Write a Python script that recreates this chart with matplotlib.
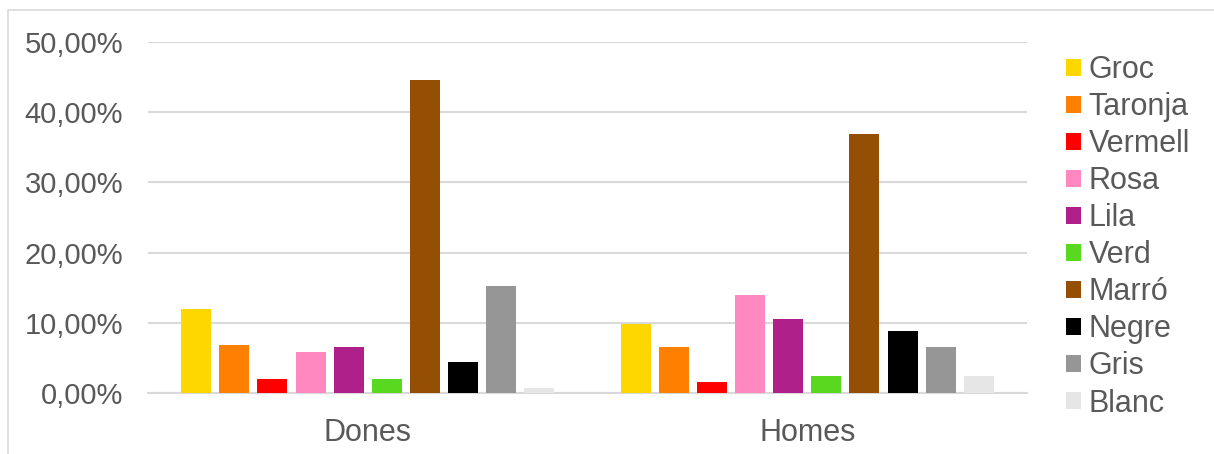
import numpy as np
import matplotlib.pyplot as plt
from matplotlib.patches import Rectangle
from matplotlib.ticker import FuncFormatter

# percentatge per color i grup
groups = ['Dones', 'Homes']
colors_names = ['Groc', 'Taronja', 'Vermell', 'Rosa', 'Lila', 'Verd',
                'Marró', 'Negre', 'Gris', 'Blanc']
dones = [11.9, 6.8, 2.0, 5.8, 6.5, 2.0, 44.6, 4.4, 15.3, 0.7]
homes = [9.9, 6.5, 1.6, 13.9, 10.6, 2.4, 36.9, 8.9, 6.5, 2.4]
bar_colors = ['#FFD700', '#FF8000', '#FF0000', '#FF88C0', '#B0208A',
              '#58D81E', '#954F04', '#000000', '#969696', '#E6E6E6']

plt.rcParams['font.family'] = ['Liberation Sans', 'DejaVu Sans']
text_color = '#595959'

fig = plt.figure(figsize=(12.14, 4.54), dpi=100)
# light frame round the chart
fig.patches.append(Rectangle((8 / 1214, -0.1), 1.2, (454 - 10) / 454 + 0.1,
                             transform=fig.transFigure, fill=False,
                             edgecolor='#D9D9D9', linewidth=1.2))

ax = fig.add_axes([148 / 1214, (454 - 393) / 454, (1027 - 148) / 1214, (393 - 42) / 454])

x = np.arange(len(groups))
slot = 38 / 438
width = 30 / 438
for i, name in enumerate(colors_names):
    vals = np.array([dones[i], homes[i]]) / 100
    ax.bar(x + (i - 4.5) * slot, vals, width=width, color=bar_colors[i],
           label=name, zorder=3)

ax.set_xlim(-0.5, 1.5)
ax.set_ylim(0, 0.5)
ax.set_yticks(np.arange(0, 0.51, 0.1))
ax.yaxis.set_major_formatter(FuncFormatter(lambda v, p: f'{v * 100:.2f}%'.replace('.', ',')))
ax.set_xticks(x)
ax.set_xticklabels(groups)

ax.grid(axis='y', color='#D9D9D9', linewidth=1.5, zorder=0)
for s in ['top', 'right', 'left']:
    ax.spines[s].set_visible(False)
ax.spines['bottom'].set_color('#D9D9D9')
ax.spines['bottom'].set_linewidth(1.5)
ax.tick_params(axis='y', length=0, pad=18, labelsize=21, labelcolor=text_color)
ax.tick_params(axis='x', length=0, pad=18, labelsize=22, labelcolor=text_color)

leg = ax.legend(loc='upper left', bbox_to_anchor=(1.030, 0.997), frameon=False,
                fontsize=22, handlelength=0.5, handleheight=0.5,
                handletextpad=0.25, labelspacing=0.23, borderaxespad=0)
for t in leg.get_texts():
    t.set_color(text_color)

fig.savefig('out.png', dpi=100)
